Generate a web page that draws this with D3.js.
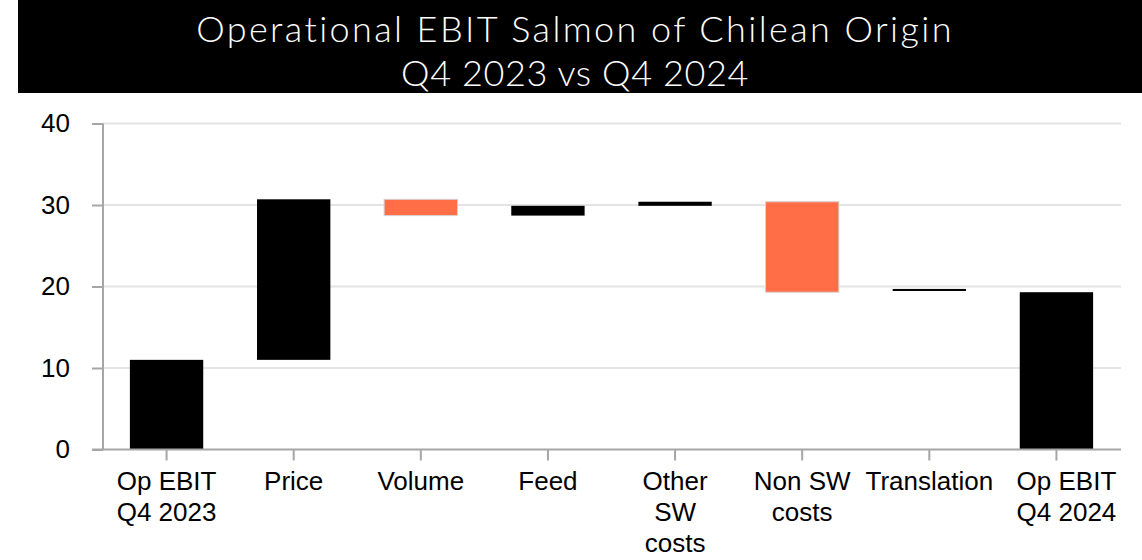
<!DOCTYPE html>
<html>
<head>
<meta charset="utf-8">
<script src="https://cdn.jsdelivr.net/npm/d3@7"></script>
<style>
  body { margin: 0; background: #fff; }
  svg { display: block; }
  .title { font-family: "Lato", "Open Sans", sans-serif; font-weight: 300; }
  .axis path, .axis line { stroke: #a6a6a6; stroke-width: 2; }
  .axis text { fill: #000; font-size: 26px; }
  .grid line { stroke: #e4e4e4; stroke-width: 2; }
</style>
</head>
<body>
<svg class="waterfall" width="1142" height="560"></svg>
<script>
var titleLines = ["Operational EBIT Salmon of Chilean Origin", "Q4 2023 vs Q4 2024"];
var categories = ["Op EBIT Q4 2023", "Price", "Volume", "Feed", "Other SW costs", "Non SW costs", "Translation", "Op EBIT Q4 2024"];
var labelLines = [["Op EBIT", "Q4 2023"], ["Price"], ["Volume"], ["Feed"], ["Other", "SW", "costs"], ["Non SW", "costs"], ["Translation"], ["Op EBIT", "Q4 2024"]];
var barStart = [0, 11.0, 30.7, 28.7, 29.9, 30.4, 19.45, 0];
var barEnd = [11.0, 30.7, 28.7, 29.9, 30.4, 19.3, 19.7, 19.3];
var decreases = ["Volume", "Non SW costs"];
var yTicks = [0, 10, 20, 30, 40];

(function () {
  var margin = {top: 123.5, right: 22, bottom: 110.5, left: 103};
  var totalWidth = 1142;
  var totalHeight = 560;
  var width = totalWidth - margin.left - margin.right;
  var height = totalHeight - margin.top - margin.bottom;

  var data = categories.map(function(c, i) {
    return {name: c, start: barStart[i], end: barEnd[i]};
  });

  var svg = d3.select(".waterfall");

  // title band
  svg.append("rect")
    .attr("x", 18).attr("y", 0)
    .attr("width", totalWidth - 18).attr("height", 93)
    .attr("fill", "#000");
  svg.append("g")
    .attr("class", "title")
    .selectAll("text")
    .data(titleLines)
    .enter().append("text")
      .attr("x", 575)
      .attr("y", function(d, i) { return 42 + i * 44; })
      .attr("text-anchor", "middle")
      .attr("fill", "#fff")
      .style("font-size", "36px")
      .style("letter-spacing", function(d, i) { return i === 0 ? "2.4px" : "0.6px"; })
      .text(function(d) { return d; });

  var vis = svg.append("g")
    .attr("transform", "translate(" + margin.left + "," + margin.top + ")");

  var xscale = d3.scaleBand()
    .domain(categories)
    .range([0, width])
    .paddingInner(0.423)
    .paddingOuter(0.2115);

  var yscale = d3.scaleLinear()
    .domain([0, 40])
    .range([height, 0]);

  vis.append("g")
    .attr("class", "grid")
    .selectAll("line")
    .data(yTicks.slice(1))
    .enter().append("line")
      .attr("x1", 0).attr("x2", width + 1)
      .attr("y1", function(d) { return yscale(d); })
      .attr("y2", function(d) { return yscale(d); });

  vis.selectAll("rect.bar")
    .data(data)
    .enter().append("rect")
      .attr("class", "bar")
      .attr("x", function(d) { return xscale(d.name); })
      .attr("width", xscale.bandwidth())
      .attr("y", function(d) { return yscale(Math.max(d.start, d.end)); })
      .attr("height", function(d) { return Math.abs(yscale(d.start) - yscale(d.end)); })
      .attr("fill", function(d) { return decreases.includes(d.name) ? "#ff6e47" : "#000"; })
      .attr("stroke", function(d) { return decreases.includes(d.name) ? "#d4d4d4" : "none"; })
      .attr("stroke-width", 1);

  var yaxis = d3.axisLeft(yscale)
    .tickValues(yTicks)
    .tickSize(11)
    .tickPadding(22);
  vis.append("g")
    .attr("class", "axis")
    .call(yaxis)
    .call(function(g) { g.select(".domain").attr("d", "M0," + height + "V0"); });

  var xaxis = d3.axisBottom(xscale)
    .tickSize(11)
    .tickFormat("");
  var xg = vis.append("g")
    .attr("class", "axis")
    .attr("transform", "translate(0," + height + ")")
    .call(xaxis);
  xg.select(".domain").attr("d", "M-11,0H" + (width + 1));

  // category labels, wrapped like the original; last one nudged right as in the source
  xg.selectAll(".tick").append("text")
    .attr("y", 14)
    .attr("text-anchor", "middle")
    .each(function(d, i) {
      var shift = i === labelLines.length - 1 ? 10 : 0;
      d3.select(this).selectAll("tspan")
        .data(labelLines[i])
        .enter().append("tspan")
          .attr("x", shift)
          .attr("dy", function(t, j) { return j === 0 ? "26px" : "31px"; })
          .text(function(t) { return t; });
    });
})();
</script>
</body>
</html>
